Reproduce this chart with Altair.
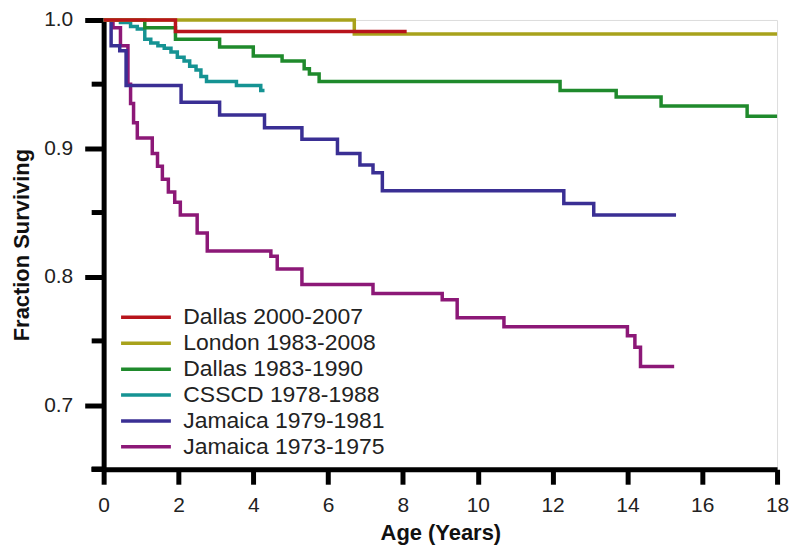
import altair as alt
import pandas as pd

# ---- data ----
cohorts = ["Dallas 2000-2007", "London 1983-2008", "Dallas 1983-1990",
           "CSSCD 1978-1988", "Jamaica 1979-1981", "Jamaica 1973-1975"]
colors = ["#b8141c", "#a8a21c", "#1f8a2c", "#159393", "#3a2f94", "#8c1877"]

dallas2000_t = [0, 1.92, 8.1]
dallas2000_s = [1.0, 0.991, 0.991]

london_t = [0, 6.7, 18]
london_s = [1.0, 0.989, 0.989]

dallas1983_t = [0, 1.1, 1.92, 3.1, 4.0, 4.77, 5.36, 5.5, 5.76, 12.2, 13.7, 14.9, 17.2, 18]
dallas1983_s = [1.0, 0.994, 0.985, 0.979, 0.972, 0.968, 0.962, 0.958, 0.952,
                0.945, 0.94, 0.933, 0.925, 0.925]

csscd_t = [0, 0.45, 0.72, 0.9, 1.1, 1.26, 1.45, 1.62, 1.8, 1.97, 2.15, 2.3,
           2.47, 2.6, 2.75, 3.55, 4.2, 4.3]
csscd_s = [1.0, 0.998, 0.995, 0.993, 0.985, 0.982, 0.98, 0.978, 0.975, 0.971,
           0.968, 0.964, 0.961, 0.956, 0.952, 0.949, 0.945, 0.945]

jam1979_t = [0, 0.2, 0.43, 0.6, 2.07, 3.1, 4.3, 5.3, 6.25, 6.85, 7.2, 7.45,
             12.3, 13.1, 15.3]
jam1979_s = [1.0, 0.98, 0.976, 0.949, 0.936, 0.926, 0.916, 0.907, 0.896,
             0.887, 0.881, 0.867, 0.857, 0.848, 0.848]

jam1973_t = [0, 0.25, 0.45, 0.65, 0.72, 0.8, 0.9, 1.3, 1.44, 1.57, 1.73, 1.9,
             2.05, 2.5, 2.77, 4.47, 4.64, 5.3, 7.2, 9.05, 9.45, 10.7, 14.0,
             14.2, 14.35, 15.25]
jam1973_s = [1.0, 0.994, 0.98, 0.95, 0.935, 0.92, 0.908, 0.896, 0.886, 0.876,
             0.866, 0.858, 0.848, 0.834, 0.82, 0.816, 0.806, 0.794, 0.787,
             0.782, 0.768, 0.761, 0.754, 0.745, 0.73, 0.73]

x_ticks = [0, 2, 4, 6, 8, 10, 12, 14, 16, 18]
y_ticks = [0.7, 0.8, 0.9, 1.0]
y_minor_ticks = [0.75, 0.85, 0.95]

series = [
    (cohorts[0], dallas2000_t, dallas2000_s),
    (cohorts[1], london_t, london_s),
    (cohorts[2], dallas1983_t, dallas1983_s),
    (cohorts[3], csscd_t, csscd_s),
    (cohorts[4], jam1979_t, jam1979_s),
    (cohorts[5], jam1973_t, jam1973_s),
]

rows = []
# draw last cohort first so red ends on top
for name, ts, ss in reversed(series):
    for t, s in zip(ts, ss):
        rows.append({"cohort": name, "age": t, "surv": s})
df = pd.DataFrame(rows)

FONT = "Liberation Sans"
xscale = alt.Scale(domain=[0, 18], nice=False, zero=False)
yscale = alt.Scale(domain=[0.65, 1.0], nice=False, zero=False)

y_axis = alt.Axis(
    values=y_ticks, format=".1f", title="Fraction Surviving",
    labelFlush=False, labelOverlap=False,
    tickSize=19, tickWidth=5, tickColor="black", domainWidth=5,
    domainColor="black", labelFontSize=21, labelFont=FONT,
    labelColor="#222", labelPadding=12, titleFont=FONT, titleFontSize=22,
    titleFontWeight="bold", titleColor="#111", titlePadding=10, grid=False)

lines = alt.Chart(df).mark_line(interpolate="step-after", strokeWidth=3.5).encode(
    x=alt.X("age:Q", scale=xscale, axis=alt.Axis(
        values=x_ticks, title="Age (Years)", labelFlush=False, labelOverlap=False,
        tickSize=15, tickWidth=5, tickColor="black", domainWidth=5,
        domainColor="black", labelFontSize=21, labelFont=FONT,
        labelColor="#222", labelPadding=10, titleFont=FONT, titleFontSize=22,
        titleFontWeight="bold", titleColor="#111", titlePadding=8, grid=False)),
    y=alt.Y("surv:Q", scale=yscale, axis=y_axis, title="Fraction Surviving"),
    color=alt.Color("cohort:N", scale=alt.Scale(domain=cohorts, range=colors),
                    legend=alt.Legend(
                        title=None, orient="none", legendX=31, legendY=287,
                        symbolType="M-5,0H5", symbolSize=100,
                        symbolStrokeWidth=3.5, labelFontSize=23,
                        labelFont=FONT, labelColor="#222", labelOffset=26,
                        labelLimit=400, rowPadding=2, padding=0)),
)

minor_df = pd.DataFrame({"v": y_minor_ticks})
minor = alt.Chart(minor_df).mark_rule(strokeWidth=5, color="black").encode(
    y=alt.Y("v:Q", scale=yscale, axis=y_axis, title="Fraction Surviving"),
    x=alt.value(-12), x2=alt.value(0),
)

ext = alt.Chart(minor_df).mark_rule(strokeWidth=5, color="black").encode(
    y=alt.Y(datum=0.65, scale=yscale, axis=y_axis, title="Fraction Surviving"),
    x=alt.value(-12), x2=alt.value(0),
)

chart = alt.layer(lines, minor, ext).properties(
    width=676, height=451,
    autosize=alt.AutoSizeParams(type="none"),
    padding={"left": 96, "top": 11, "right": 15, "bottom": 77},
).configure_view(stroke=None).configure(background="white")

chart.save("out.html", embed_options={"renderer": "svg", "actions": False})
